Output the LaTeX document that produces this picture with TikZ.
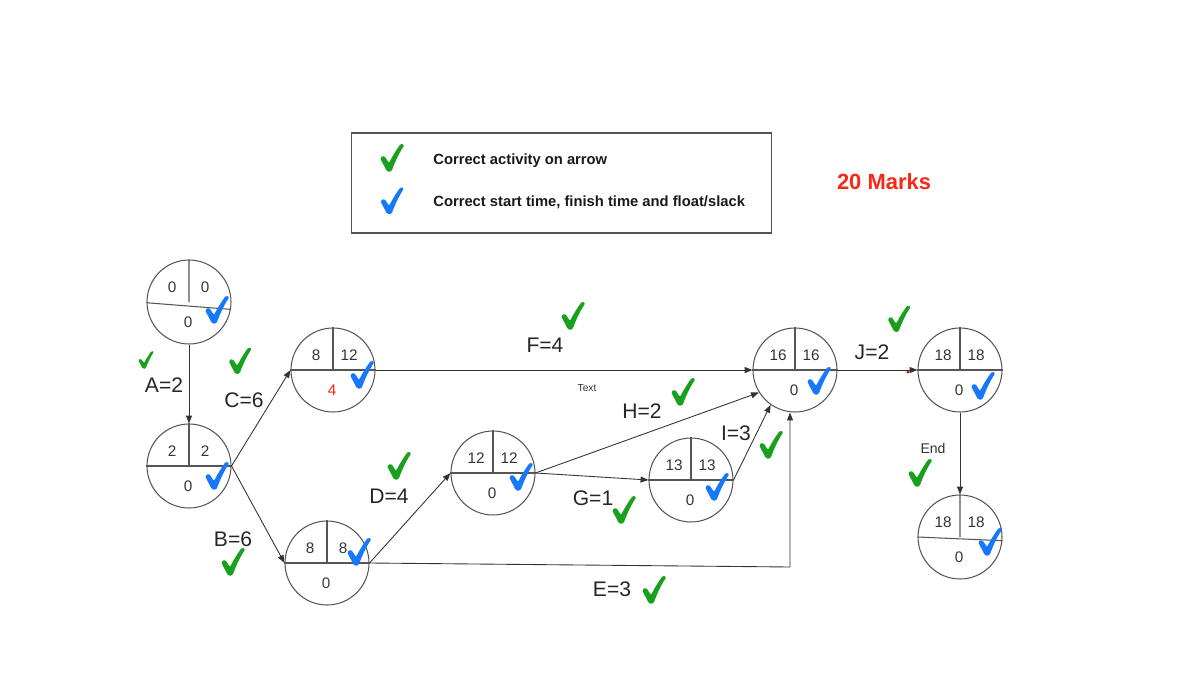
\documentclass[tikz,border=0pt]{standalone}
\usepackage{fontspec}
\setmainfont{Liberation Sans}
\usetikzlibrary{arrows.meta}
\definecolor{ckgreen}{RGB}{24,160,30}
\definecolor{ckblue}{RGB}{22,120,250}
\definecolor{mkred}{RGB}{248,40,20}
\definecolor{lnc}{RGB}{85,85,85}
\tikzset{
  ev/.style={circle,draw=lnc,line width=0.6pt,minimum size=1.68cm,inner sep=0pt},
  evline/.style={draw=lnc,line width=0.6pt},
  num/.style={font=\fontsize{8.7}{10}\selectfont,inner sep=0pt,text=black!80},
  act/.style={font=\fontsize{12}{14}\selectfont,inner sep=0pt,text=black!85},
  legtxt/.style={font=\fontsize{8.4}{10}\bfseries\selectfont,inner sep=0pt,anchor=west,text=black!90},
  arr/.style={draw=black!80,line width=0.5pt,-{Triangle[length=4.5pt,width=3.4pt]}},
  chk/.pic={\fill[rounded corners=0.8pt] (-12,0) -- (-8,-2.5) -- (-3,5)
      .. controls (1,-3) and (5,-9) .. (9,-14.5) -- (12.5,-13)
      .. controls (7,-5) and (2.5,5) .. (-0.5,13.5) -- (-5,13.5) -- cycle;}
}
% name, position, top-left, top-right, bottom, left angle, right angle, bottom colour
\newcommand{\evnode}[8]{%
  \node[ev] (#1) at (#2) {};
  \draw[evline] (#1.#6) -- (#1.#7) (#1.north) -- (#1.center);
  \node[num] (#1tl) at ([shift={(-17,-15)}]#1.center) {#3};
  \node[num] (#1tr) at ([shift={(16,-15)}]#1.center) {#4};
  \node[num,text=#8] (#1b) at ([shift={(-1,20)}]#1.center) {#5};
}
\begin{document}
\begin{tikzpicture}[x=0.02cm,y=-0.02cm]
\useasboundingbox (0,0) rectangle (1183,686);
% legend
\node[draw=lnc,line width=0.6pt,minimum width=8.42cm,minimum height=2.0cm,inner sep=0pt] (legend) at (561.5,183) {};
\node[legtxt] (leg1) at (433,161) {Correct activity on arrow};
\node[legtxt] (leg2) at (433,202) {Correct start time, finish time and float/slack};
\pic[color=ckgreen] at (392,158) {chk};
\pic[color=ckblue,scale=0.97] at (392,201) {chk};
\node[font=\fontsize{12.5}{14}\bfseries\selectfont,text=mkred,inner sep=0pt] (marks) at (884,182) {20 Marks};

% events
\evnode{n1}{189,302}{0}{0}{0}{181}{350}{black!80}
\evnode{n2}{189,466}{2}{2}{0}{180}{0}{black!80}
\evnode{n3}{333,370}{8}{12}{4}{180}{0}{mkred}
\evnode{n4}{327,563}{8}{8}{0}{180}{0}{black!80}
\evnode{n5}{493,473}{12}{12}{0}{180}{0}{black!80}
\evnode{n6}{691,480}{13}{13}{0}{180}{0}{black!80}
\evnode{n7}{795,370}{16}{16}{0}{180}{0}{black!80}
\evnode{n8}{960,370}{18}{18}{0}{180}{0}{black!80}
\evnode{n9}{960,537}{18}{18}{0}{180}{355}{black!80}

% activities
\coordinate (ecorner) at (790,567);
\draw[arr] (n1.south) -- (n2.north);
\draw[arr] (n2.east) -- (n3.west);
\draw[arr] (n2.east) -- (n4.west);
\draw[arr] (n3.east) -- (n7.west);
\draw[arr] (n4.east) -- (n5.west);
\draw[arr] (n4.east) -- (ecorner) -- (ecorner |- n7.south);
\draw[arr] (n5.east) -- (n6.west);
\draw[arr] (n5.east) -- (n7.212);
\draw[arr] (n6.east) -- (n7.235);
\draw[arr] (n7.east) -- (n8.west);
\draw[arr] (n8.south) -- (n9.north);
\fill[red] (908,372) circle[radius=0.9pt];

% labels
\node[act] (la) at (164,385) {A=2};
\node[act] (lc) at (244,400) {C=6};
\node[act] (lb) at (233,539) {B=6};
\node[act] (ld) at (389,496) {D=4};
\node[act] (lf) at (545,345) {F=4};
\node[font=\fontsize{5.8}{7}\selectfont,inner sep=0pt,text=black!80] (ltext) at (587,388) {Text};
\node[act] (lh) at (642,411) {H=2};
\node[act] (li) at (736,433) {I=3};
\node[act] (lg) at (593,498) {G=1};
\node[act] (le) at (612,589) {E=3};
\node[act] (lj) at (872,352) {J=2};
\node[font=\fontsize{8}{9}\selectfont,inner sep=0pt,text=black!80] (lend) at (933,448) {End};

% green checks
\pic[color=ckgreen,scale=0.65] at (146,360) {chk};
\pic[color=ckgreen,scale=0.95] at (240,361) {chk};
\pic[color=ckgreen] at (233,562) {chk};
\pic[color=ckgreen] at (399,466) {chk};
\pic[color=ckgreen] at (573,316) {chk};
\pic[color=ckgreen] at (683,392) {chk};
\pic[color=ckgreen] at (624,510) {chk};
\pic[color=ckgreen] at (771,445) {chk};
\pic[color=ckgreen] at (654,590) {chk};
\pic[color=ckgreen,scale=0.95] at (899,319) {chk};
\pic[color=ckgreen] at (920,473) {chk};

% blue checks
\pic[color=ckblue] at (217,310) {chk};
\pic[color=ckblue] at (217,476) {chk};
\pic[color=ckblue] at (362,375) {chk};
\pic[color=ckblue] at (359,552) {chk};
\pic[color=ckblue] at (521,477) {chk};
\pic[color=ckblue] at (717,487) {chk};
\pic[color=ckblue] at (819,381) {chk};
\pic[color=ckblue] at (983,386) {chk};
\pic[color=ckblue] at (990,542) {chk};
\end{tikzpicture}
\end{document}
